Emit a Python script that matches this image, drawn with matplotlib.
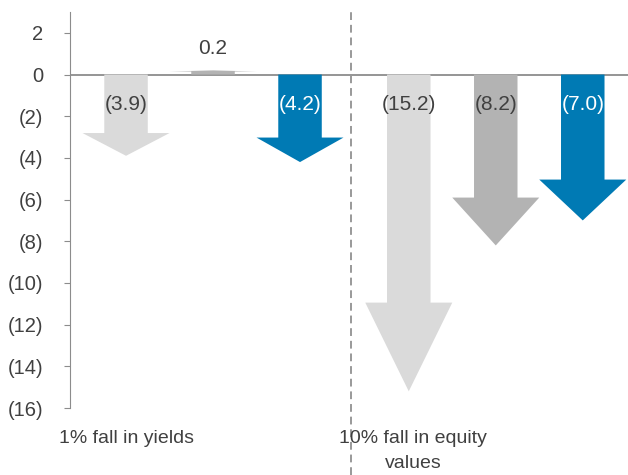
import matplotlib
matplotlib.use("Agg")
import matplotlib.pyplot as plt
from matplotlib.patches import FancyArrow
import numpy as np

plt.rcParams['font.family'] = ['Liberation Sans', 'DejaVu Sans']

# data
groups = ["1% fall in yields", "10% fall in equity\nvalues"]
yields_vals = [-3.9, 0.2, -4.2]
equity_vals = [-15.2, -8.2, -7.0]
colors = ["#dadada", "#b3b3b3", "#007ab4"]
label_colors = ["#404040", "#404040", "white"]
yticks = np.arange(-16, 3, 2)

text_col = "#404040"
axis_col = "#8c8c8c"

fig = plt.figure(figsize=(6.28, 4.75), dpi=100)
ax = fig.add_axes([70 / 628, 67 / 475, 558 / 628, 396 / 475])

x1 = np.arange(3)
x2 = np.arange(3) + 3.25

for xs, vals in [(x1, yields_vals), (x2, equity_vals)]:
    for x, v, c, lc in zip(xs, vals, colors, label_colors):
        hl = 0.28 * abs(v)
        arr = FancyArrow(x, 0, 0, v, width=0.5, head_width=1.0,
                         head_length=hl, length_includes_head=True,
                         color=c, linewidth=0)
        ax.add_patch(arr)
        if v < 0:
            ax.text(x, -1.45, "(%.1f)" % abs(v), ha="center", va="center",
                    fontsize=15, color=lc)
        else:
            ax.text(x, 1.25, "%.1f" % v, ha="center", va="center",
                    fontsize=15, color=lc)

ax.set_xlim(-0.644, 5.77)
ax.set_ylim(-16, 3)
ax.axhline(0, color=axis_col, lw=1.3, zorder=0)

ax.set_yticks(yticks)
ax.set_yticklabels(["(%d)" % -t if t < 0 else "%d" % t for t in yticks])
ax.tick_params(axis="y", colors=axis_col, labelcolor=text_col, labelsize=14.5,
               length=4.3, direction="out", pad=15)
ax.set_xticks([])

for s in ["top", "right", "bottom"]:
    ax.spines[s].set_visible(False)
ax.spines["left"].set_color(axis_col)

# dashed separator
ax.axvline(2.59, ymin=-0.17, ymax=1.01, color="#999999", lw=1.4,
           linestyle=(0, (4, 2.5)), clip_on=False)

trans = ax.get_xaxis_transform()
ax.text(0, -0.055, groups[0], transform=trans, ha="center", va="top",
        fontsize=14, color=text_col)
ax.text(3.3, -0.055, groups[1], transform=trans, ha="center", va="top",
        fontsize=14, color=text_col, linespacing=1.6)

fig.savefig("out.png", dpi=100)
